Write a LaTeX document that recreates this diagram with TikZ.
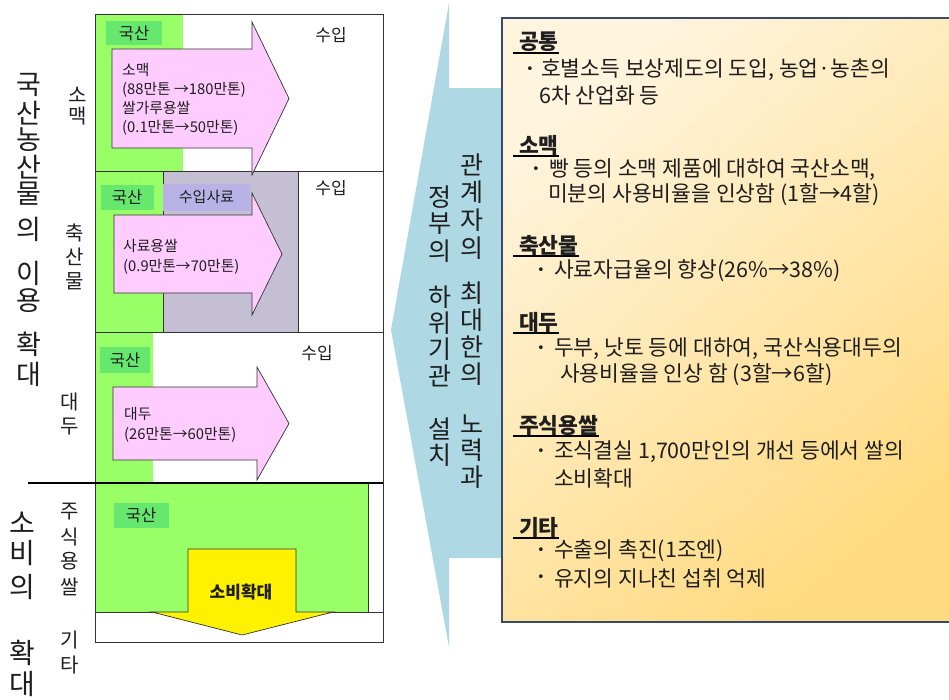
\documentclass[tikz,border=0pt]{standalone}
\usepackage{fontspec}
\setmainfont{Noto Sans CJK KR}
\newfontfamily\bulfont{DejaVu Sans}
\usetikzlibrary{calc}
\definecolor{greenA}{HTML}{99FF66}
\definecolor{greenL}{HTML}{66E86E}
\definecolor{grayF}{HTML}{C5BFD3}
\definecolor{lavF}{HTML}{B9B2E6}
\definecolor{pinkF}{HTML}{FFCCFF}
\definecolor{blueF}{HTML}{ADD8E4}
\definecolor{boxA}{HTML}{FFF4DE}
\definecolor{boxB}{HTML}{FFDA80}
\definecolor{boxE}{HTML}{3A4A6A}
\definecolor{lineC}{HTML}{333333}
\definecolor{textC}{HTML}{1E1E1E}
\begin{document}
\begin{tikzpicture}[x=1pt,y=-1pt,
  txt/.style={inner sep=0pt, text=textC},
  rb/.style={txt, anchor=west, font=\fontsize{21.5}{25}\selectfont},
  rh/.style={txt, anchor=west, font=\fontsize{21.5}{25}\selectfont\bfseries},
  bul/.style={txt, font=\bulfont\fontsize{13}{15}\selectfont},
  uline/.style={draw=black, line width=1.1pt},
  small/.style={txt, anchor=west, align=left, font=\fontsize{14.8}{19}\selectfont},
  lab/.style={txt, font=\fontsize{17}{19}\selectfont},
  gbox/.style={fill=greenL, inner sep=0pt, text=textC, font=\fontsize{16.5}{18}\selectfont},
  vsm/.style={txt, font=\fontsize{20}{22}\selectfont},
  vbig/.style={txt, font=\fontsize{27}{29}\selectfont},
  vblue/.style={txt, font=\fontsize{25}{27}\selectfont},
  parrow/.style={fill=pinkF, draw=lineC, line width=0.7pt},
  frame/.style={draw=lineC, line width=0.9pt}
]
\useasboundingbox (0,0) rectangle (949,699);
\fill[white] (0,0) rectangle (949,699);

% ---------- blue backdrop arrow ----------
\fill[blueF] (449,3) -- (449,88) -- (506,88) -- (506,558) -- (449,558) -- (449,647) -- (391,330) -- cycle;

% ---------- right box ----------
\begin{scope}
\clip (0,0) rectangle (949,699);
\shade[top color=boxA, bottom color=boxB, shading angle=40] (502,18) rectangle (956,622);
\draw[boxE, line width=2.6pt] (502,18) rectangle (956,622);
\end{scope}

% blue texts
\foreach \c/\yy [count=\i] in {관/165,계/192,자/220,의/248,최/293,대/320,한/347,의/374,노/424,력/450,과/477}
  \node[vblue] (br\i) at (472,\yy) {\c};
\foreach \c/\yy [count=\i] in {정/197,부/224,의/251,하/297,위/323,기/349,관/376,설/429,치/455}
  \node[vblue] (bl\i) at (440,\yy) {\c};

% right box contents
\node[rh] (h1) at (519,42) {공통};
\node[bul] (d1) at (530,70) {•};
\node[rb] (t1a) at (541,70) {호별소득 보상제도의 도입, 농업·농촌의};
\node[rb] (t1b) at (539,95) {6차 산업화 등};

\node[rh] (h2) at (519,145) {소맥};
\node[bul] (d2) at (536,170) {•};
\node[rb] (t2a) at (549,170) {빵 등의 소맥 제품에 대하여 국산소맥,};
\node[rb] (t2b) at (548,195) {미분의 사용비율을 인상함 (1할→4할)};

\node[rh] (h3) at (519,245) {축산물};
\node[bul] (d3) at (541,271) {•};
\node[rb] (t3a) at (554,271) {사료자급율의 향상(26\%→38\%)};

\node[rh] (h4) at (519,322) {대두};
\node[bul] (d4) at (541,349) {•};
\node[rb] (t4a) at (554,349) {두부, 낫토 등에 대하여, 국산식용대두의};
\node[rb] (t4b) at (560,375) {사용비율을 인상 함 (3할→6할)};

\node[rh] (h5) at (519,425) {주식용쌀};
\node[bul] (d5) at (541,452) {•};
\node[rb] (t5a) at (554,452) {조식결실 1,700만인의 개선 등에서 쌀의};
\node[rb] (t5b) at (554,478) {소비확대};

\node[rh] (h6) at (519,527) {기타};
\node[bul] (d6) at (541,551) {•};
\node[rb] (t6a) at (554,551) {수출의 촉진(1조엔)};
\node[bul] (d7) at (541,578) {•};
\node[rb] (t6b) at (554,578) {유지의 지나친 섭취 억제};

\foreach \h/\yy in {h1/53,h2/156,h3/256,h4/333,h5/436,h6/538}{
  \coordinate (u-\h) at (513,\yy);
  \draw[uline] (u-\h) -- (u-\h -| \h.east);
}

% ---------- left panel ----------
\fill[greenA] (95,14) rectangle (183,171);
\fill[greenA] (95,171) rectangle (163,332);
\filldraw[fill=grayF, frame] (163,171) rectangle (298,332);
\fill[greenA] (95,332) rectangle (153,483);
\filldraw[fill=greenA, frame] (95,483) rectangle (368,612);
\draw[frame] (95,14) rectangle (383,642);
\draw[frame] (95,171) -- (383,171);
\draw[frame] (95,332) -- (383,332);
\draw[frame] (95,612) -- (383,612);
\draw[black, line width=2pt] (28,483) -- (383,483);

% label boxes
\node[gbox, minimum width=56pt, minimum height=24pt] (k1) at (134,33) {국산};
\node[gbox, minimum width=53pt, minimum height=25pt] (k2) at (127,197) {국산};
\node[fill=lavF, inner sep=0pt, text=textC, font=\fontsize{15}{17}\selectfont, minimum width=87pt, minimum height=27pt] (s2) at (206.5,197) {수입사료};
\node[gbox, minimum width=50pt, minimum height=26pt] (k3) at (125,360) {국산};
\node[gbox, minimum width=55pt, minimum height=25pt] (k4) at (141,515) {국산};

% import labels
\node[lab] (i1) at (331,35) {수입};
\node[lab] (i2) at (331,188) {수입};
\node[lab] (i3) at (317,353) {수입};

% pink arrows
\filldraw[parrow] (112,49) -- (252,49) -- (252,22) -- (289,98.5) -- (252,175) -- (252,148) -- (112,148) -- cycle;
\filldraw[parrow] (114,215) -- (252,215) -- (252,193) -- (282,254) -- (252,315) -- (252,293) -- (114,293) -- cycle;
\filldraw[parrow] (113,387) -- (257,387) -- (257,367) -- (289,423.5) -- (257,480) -- (257,460) -- (113,460) -- cycle;
\node[small] (a1) at (122,99) {소맥\\(88만톤 →180만톤)\\쌀가루용쌀\\(0.1만톤→50만톤)};
\node[small, font=\fontsize{14.8}{20}\selectfont] (a2) at (123,257) {사료용쌀\\(0.9만톤→70만톤)};
\node[small, font=\fontsize{14.8}{20}\selectfont] (a3) at (124,425) {대두\\(26만톤→60만톤)};

% yellow arrow
\filldraw[fill=yellow, draw=lineC, line width=0.7pt] (188,549) -- (296,549) -- (296,612) -- (333,612) -- (242,635) -- (152,612) -- (188,612) -- cycle;
\node[txt, font=\fontsize{17}{19}\selectfont\bfseries] (y1) at (241,592) {소비확대};

% vertical row labels
\foreach \c/\yy [count=\i] in {소/95,맥/116}
  \node[vsm] (ra\i) at (78,\yy) {\c};
\foreach \c/\yy [count=\i] in {축/233,산/257,물/281}
  \node[vsm] (rb\i) at (75,\yy) {\c};
\foreach \c/\yy [count=\i] in {대/402,두/427}
  \node[vsm] (rc\i) at (70,\yy) {\c};
\foreach \c/\yy [count=\i] in {주/512,식/537,용/561,쌀/587}
  \node[vsm] (rd\i) at (70,\yy) {\c};
\foreach \c/\yy [count=\i] in {기/640,타/665}
  \node[vsm] (re\i) at (70,\yy) {\c};

% big vertical labels
\foreach \c/\yy [count=\i] in {국/85,산/113,농/140,산/167,물/194,의/229,이/273,용/301,확/344,대/374}
  \node[vbig] (ga\i) at (29,\yy) {\c};
\foreach \c/\yy [count=\i] in {소/523,비/553,의/587,확/653,대/684}
  \node[vbig, font=\fontsize{28}{30}\selectfont] (gb\i) at (22,\yy) {\c};
\end{tikzpicture}
\end{document}
